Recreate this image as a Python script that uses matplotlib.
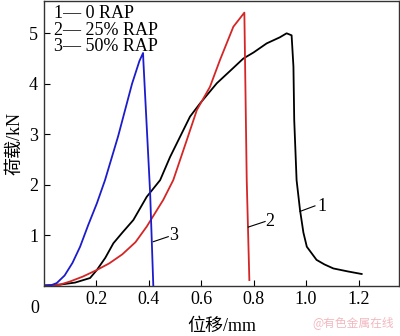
import matplotlib
matplotlib.use("Agg")
import matplotlib.pyplot as plt

# curve 1: 0 RAP (black)
x1 = [0.0, 0.063, 0.12, 0.177, 0.203, 0.235, 0.266, 0.30, 0.342, 0.393, 0.444, 0.482,
      0.52, 0.558, 0.596, 0.66, 0.72, 0.761, 0.80, 0.850, 0.90, 0.926, 0.945,
      0.952, 0.955, 0.964, 0.977, 0.990, 1.003, 1.04, 1.07, 1.104, 1.16, 1.212]
y1 = [0.0, 0.02, 0.06, 0.15, 0.31, 0.55, 0.84, 1.05, 1.30, 1.76, 2.09, 2.55,
      2.95, 3.35, 3.61, 4.01, 4.30, 4.50, 4.62, 4.80, 4.92, 5.00, 4.96,
      4.34, 3.28, 2.09, 1.50, 1.05, 0.77, 0.51, 0.42, 0.34, 0.28, 0.23]

# curve 2: 25% RAP (red)
x2 = [0.0, 0.063, 0.10, 0.15, 0.203, 0.25, 0.30, 0.35, 0.393, 0.456, 0.494,
      0.546, 0.584, 0.634, 0.672, 0.723, 0.765, 0.774, 0.784]
y2 = [0.0, 0.02, 0.08, 0.18, 0.31, 0.44, 0.62, 0.86, 1.17, 1.70, 2.09,
      2.89, 3.48, 3.94, 4.47, 5.13, 5.41, 2.09, 0.11]

# curve 3: 50% RAP (blue)
x3 = [0.0, 0.03, 0.05, 0.08, 0.11, 0.139, 0.17, 0.203, 0.234, 0.284, 0.337,
      0.365, 0.379, 0.38, 0.406, 0.418]
y3 = [0.0, 0.01, 0.05, 0.20, 0.45, 0.77, 1.20, 1.63, 2.09, 2.96, 4.00,
      4.45, 4.61, 4.47, 1.83, 0.0]

xticks = [0.2, 0.4, 0.6, 0.8, 1.0, 1.2]
xtick_labels = ["0.2", "0.4", "0.6", "0.8", "1.0", "1.2"]
yticks = [1, 2, 3, 4, 5]
ytick_labels = ["1", "2", "3", "4", "5"]
legend_lines = ["1\u2014 0 RAP", "2\u2014 25% RAP", "3\u2014 50% RAP"]

# curve number labels: text position, leader start, leader end
tags = [("1", (1.06, 1.56), (0.977, 1.47), (1.034, 1.58)),
        ("2", (0.863, 1.27), (0.780, 1.16), (0.844, 1.27)),
        ("3", (0.494, 1.00), (0.418, 0.87), (0.475, 0.97))]

plt.rcParams['font.family'] = ['Liberation Serif', 'Noto Sans CJK SC']

fig = plt.figure(figsize=(4.0, 3.36), dpi=100)
ax = fig.add_axes([0.109, 0.15, 0.889, 0.847])

ax.plot(x1, y1, color='black', lw=1.3)
ax.plot(x2, y2, color='#d42626', lw=1.3)
ax.plot(x3, y3, color='#1c1ccc', lw=1.3)

ax.set_xlim(0, 1.355)
ax.set_ylim(0, 5.64)
ax.set_xticks(xticks)
ax.set_xticklabels(xtick_labels)
ax.set_yticks(yticks)
ax.set_yticklabels(ytick_labels)
ax.tick_params(direction='in', length=4, width=0.8, labelsize=13, pad=4)
for s in ax.spines.values():
    s.set_color('#333333')
    s.set_linewidth(1.0)

ax.text(-0.025, -0.08, "0", transform=ax.transAxes, fontsize=13,
        ha='center', va='center')

for name, (tx, ty), (sx, sy), (ex, ey) in tags:
    ax.plot([sx, ex], [sy, ey], color='black', lw=0.8)
    ax.text(tx, ty, name, fontsize=13, ha='center', va='center')

for i, t in enumerate(legend_lines):
    ax.text(0.028, 0.985 - i * 0.058, t, transform=ax.transAxes, fontsize=13,
            ha='left', va='top')

ax.set_xlabel("位移/mm", fontsize=13, labelpad=7)
ax.set_ylabel("荷载/kN", fontsize=13, labelpad=4)

fig.text(0.985, 0.02, "@有色金属在线", color='#f2b8c0', fontsize=8.5,
         ha='right', va='bottom', family=['Noto Sans CJK SC'])

fig.savefig("out.png", dpi=100)
